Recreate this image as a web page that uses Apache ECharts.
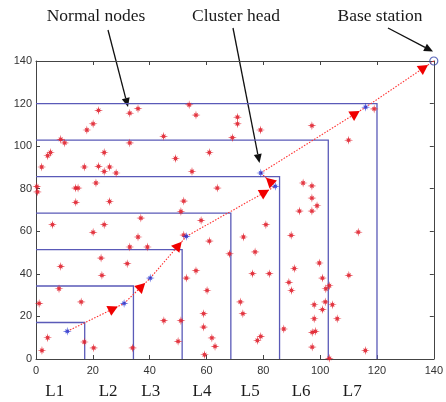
<!DOCTYPE html>
<html>
<head>
<meta charset="utf-8">
<script src="https://cdn.jsdelivr.net/npm/echarts@6/dist/echarts.min.js"></script>
<style>html,body{margin:0;padding:0;background:#fff;}#c{width:446px;height:402px;}</style>
</head>
<body>
<div id="c"></div>
<script>
// ---- data ----
var axisMin = 0, axisMax = 140, axisStep = 20;
var levelSides = [17.14, 34.29, 51.43, 68.57, 85.71, 102.86, 120];
var levelLabels = ['L1', 'L2', 'L3', 'L4', 'L5', 'L6', 'L7'];
var levelLabelX = [6.6, 25.4, 40.4, 58.4, 75.4, 93.3, 111.3];
var clusterHeads = [[11.0,13.0],[31.0,26.1],[40.2,38.0],[52.9,57.6],[84.2,81.1],[79.1,87.4],[116.0,118.3]];
var baseStation = [[140,140]];
var normalNodes = [
 [8.7,103.2],[10.1,101.5],[17.9,107.6],[20.1,110.5],[22.0,116.8],[33.0,115.5],[35.9,117.6],[44.9,104.6],
 [53.9,119.4],[56.3,114.6],[70.9,113.6],[70.9,110.5],[69.1,104.0],[79.0,107.6],[97.1,109.6],[110.0,102.8],[119.0,117.5],
 [2.0,90.2],[4.1,95.5],[5.1,97.0],[0.3,81.0],[0.5,78.5],[13.9,80.3],[14.8,80.3],[14.0,73.6],[5.8,63.1],
 [17.0,90.2],[21.1,82.7],[22.0,90.5],[24.0,97.0],[24.0,88.1],[25.9,90.2],[28.2,87.4],[25.9,74.0],[20.1,59.5],
 [24.0,63.1],[33.0,101.5],[49.1,94.2],[54.9,88.1],[61.0,97.0],[63.8,80.3],[52.0,74.2],[51.0,69.3],[36.9,66.2],
 [35.9,57.3],[33.0,52.6],[39.2,52.6],[52.0,58.2],[58.1,65.1],[61.0,55.4],[22.9,47.4],[32.1,44.8],[8.7,43.5],[56.3,41.5],
 [94.0,82.7],[97.1,81.3],[97.1,75.6],[98.9,72.0],[92.7,69.5],[97.1,69.5],[80.9,63.1],[73.0,57.3],[89.8,58.1],
 [113.4,59.6],[77.1,50.3],[68.1,49.4],[99.7,45.1],[90.9,42.5],
 [23.2,39.3],[8.1,33.0],[1.1,26.1],[15.9,26.8],[4.1,10.0],[2.1,4.0],[17.0,8.0],[20.3,5.2],[34.0,5.2],[52.9,38.0],
 [60.2,32.2],[45.0,18.0],[51.0,18.0],[59.0,21.3],[59.0,15.0],[61.9,9.9],[63.0,5.9],[50.0,8.3],[59.3,2.0],
 [76.2,40.1],[82.1,40.1],[110.1,39.3],[100.8,38.0],[89.0,36.0],[89.9,32.2],[102.0,33.0],[103.2,34.4],[71.9,26.8],
 [72.8,21.3],[97.9,25.5],[101.8,26.8],[104.3,25.5],[100.8,23.2],[97.9,18.9],[106.0,18.9],[87.2,14.1],[97.2,12.5],
 [98.3,13.0],[79.1,10.6],[77.9,8.7],[97.2,5.6],[115.9,4.0],[103.2,0.3]
];
var annotations = ['Normal nodes', 'Cluster head', 'Base station'];

// ---- build ----
var routeNodes = clusterHeads.concat(baseStation);
var routeSegs = [];
for (var i = 0; i < routeNodes.length - 1; i++) {
  routeSegs.push([routeNodes[i][0], routeNodes[i][1], routeNodes[i+1][0], routeNodes[i+1][1]]);
}

function starPath() {
  var pts = [];
  for (var k = 0; k < 16; k++) {
    var ang = k * Math.PI / 8 - Math.PI / 2;
    var r;
    if (k % 2 === 1) r = 3.4;
    else if (k % 4 === 0) r = 10;
    else r = 7;
    pts.push((r * Math.cos(ang)).toFixed(2) + ',' + (r * Math.sin(ang)).toFixed(2));
  }
  return 'path://M' + pts.join('L') + 'Z';
}
var STAR = starPath();

var axisLineStyle = { color: '#444', width: 1 };
function mkX(pos, show) {
  return {
    type: 'value', position: pos, min: axisMin, max: axisMax, interval: axisStep,
    axisLine: { show: true, onZero: false, lineStyle: axisLineStyle },
    axisTick: { show: true, inside: true, length: 4, lineStyle: axisLineStyle },
    axisLabel: { show: show, margin: 6, color: '#333', fontSize: 11, fontFamily: 'Liberation Sans, Arial' },
    splitLine: { show: false }
  };
}
function mkY(pos, show) {
  return {
    type: 'value', position: pos, min: axisMin, max: axisMax, interval: axisStep,
    axisLine: { show: true, onZero: false, lineStyle: axisLineStyle },
    axisTick: { show: true, inside: true, length: 4, lineStyle: axisLineStyle },
    axisLabel: { show: show, margin: 4, color: '#333', fontSize: 11, fontFamily: 'Liberation Sans, Arial' },
    splitLine: { show: false }
  };
}

var chart = echarts.init(document.getElementById('c'), null, { renderer: 'canvas' });

function arrowGraphic(x1, y1, x2, y2, color) {
  var dx = x2 - x1, dy = y2 - y1, L = Math.sqrt(dx*dx + dy*dy);
  var ux = dx / L, uy = dy / L, nx = -uy, ny = ux;
  var len = 9, hw = 4;
  var bx = x2 - ux * len, by = y2 - uy * len;
  return [
    { type: 'line', shape: { x1: x1, y1: y1, x2: bx, y2: by }, style: { stroke: color, lineWidth: 1.3 } },
    { type: 'polygon', shape: { points: [[x2, y2], [bx + nx*hw, by + ny*hw], [bx - nx*hw, by - ny*hw]] }, style: { fill: color } }
  ];
}

var textStyleTop = { fill: '#1a1a1a', font: '17.5px "Liberation Serif", "Times New Roman", serif', align: 'center', verticalAlign: 'middle' };
var graphics = [
  { type: 'text', x: 96, y: 16, style: Object.assign({ text: annotations[0] }, textStyleTop) },
  { type: 'text', x: 236, y: 16, style: Object.assign({ text: annotations[1] }, textStyleTop) },
  { type: 'text', x: 380, y: 16, style: Object.assign({ text: annotations[2] }, textStyleTop) }
].concat(arrowGraphic(108, 30, 128, 107, '#111'))
 .concat(arrowGraphic(233, 28, 259.5, 163, '#111'))
 .concat(arrowGraphic(388, 28, 433, 51.5, '#111'));

var option = {
  animation: false,
  backgroundColor: '#fff',
  grid: { left: 36, right: 7, top: 61, bottom: 43, containLabel: false },
  xAxis: [mkX('bottom', true), mkX('top', false)],
  yAxis: [mkY('left', true), mkY('right', false)],
  graphic: graphics,
  series: [
    {
      type: 'custom', name: 'levels', coordinateSystem: 'cartesian2d', clip: false,
      data: levelSides.map(function (s) { return [s, s]; }),
      encode: { x: 0, y: 1 },
      renderItem: function (params, api) {
        var s = api.value(0);
        var a = api.coord([0, s]), b = api.coord([s, s]), c = api.coord([s, 0]);
        return { type: 'polyline', shape: { points: [a, b, c] }, style: { stroke: '#5a5ab8', lineWidth: 1.3, fill: null } };
      },
      z: 1
    },
    {
      type: 'custom', name: 'route', coordinateSystem: 'cartesian2d', clip: false,
      data: routeSegs,
      encode: { x: [0, 2], y: [1, 3] },
      renderItem: function (params, api) {
        var p1 = api.coord([api.value(0), api.value(1)]);
        var p2 = api.coord([api.value(2), api.value(3)]);
        var dx = p2[0] - p1[0], dy = p2[1] - p1[1], L = Math.sqrt(dx*dx + dy*dy);
        var ux = dx / L, uy = dy / L, nx = -uy, ny = ux;
        var tipOff = 7, len = 10, hw = 5.5;
        var tx = p2[0] - ux * tipOff, ty = p2[1] - uy * tipOff;
        var bx = tx - ux * len, by = ty - uy * len;
        return {
          type: 'group',
          children: [
            { type: 'line', shape: { x1: p1[0], y1: p1[1], x2: p2[0], y2: p2[1] },
              style: { stroke: '#ff3030', lineWidth: 1.1, lineDash: [1.5, 1.5] } },
            { type: 'polygon', shape: { points: [[tx, ty], [bx + nx*hw, by + ny*hw], [bx - nx*hw, by - ny*hw]] },
              style: { fill: '#f00000' } }
          ]
        };
      },
      z: 2
    },
    {
      type: 'scatter', name: 'Normal nodes', data: normalNodes, clip: false,
      symbol: STAR, symbolSize: 9,
      itemStyle: { color: '#e0202c', opacity: 0.9 }, z: 3
    },
    {
      type: 'scatter', name: 'Cluster head', data: clusterHeads, clip: false,
      symbol: STAR, symbolSize: 9,
      itemStyle: { color: '#1a2ad0' }, z: 4
    },
    {
      type: 'scatter', name: 'Base station', data: baseStation, clip: false,
      symbol: 'circle', symbolSize: 8,
      itemStyle: { color: 'rgba(0,0,0,0)', borderColor: '#3344aa', borderWidth: 1.2 }, z: 4
    },
    {
      type: 'custom', name: 'levelLabels', coordinateSystem: 'cartesian2d', clip: false,
      data: levelLabelX.map(function (x, i) { return [x, 0, i]; }),
      encode: { x: 0, y: 1 },
      renderItem: function (params, api) {
        var p = api.coord([api.value(0), api.value(1)]);
        return { type: 'text', x: p[0], y: p[1] + 33,
          style: { text: levelLabels[api.value(2)], fill: '#1a1a1a', font: '17px "Liberation Serif", "Times New Roman", serif', align: 'center', verticalAlign: 'middle' } };
      },
      z: 5
    }
  ]
};
chart.setOption(option);
</script>
</body>
</html>
